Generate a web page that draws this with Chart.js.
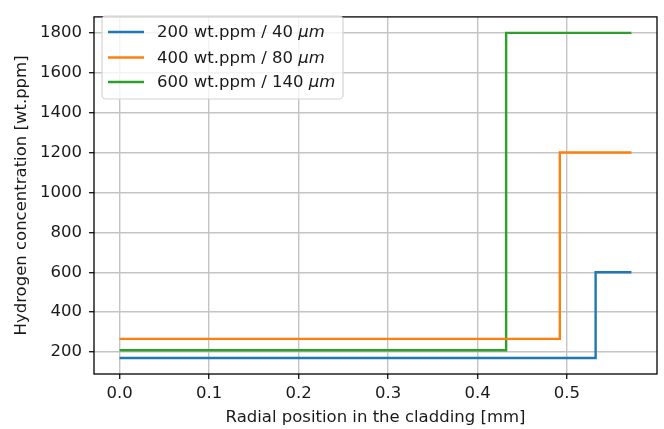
<!DOCTYPE html>
<html>
<head>
<meta charset="utf-8">
<script src="https://cdn.jsdelivr.net/npm/chart.js@4.4.0/dist/chart.umd.min.js"></script>
<style>
  html, body { margin: 0; padding: 0; background: #fff; }
  #wrap { width: 664px; height: 429px; }
</style>
</head>
<body>
<div id="wrap"><canvas id="hChart" width="664" height="429"></canvas></div>
<script>
// step profiles (x in mm, y in wt.ppm)
const blueX = [0, 0.532, 0.532, 0.572];
const blueY = [170, 170, 600, 600];
const orangeX = [0, 0.492, 0.492, 0.572];
const orangeY = [266, 266, 1200, 1200];
const greenX = [0, 0.432, 0.432, 0.572];
const greenY = [209, 209, 1800, 1800];

const seriesNames = ['200 wt.ppm / 40 ', '400 wt.ppm / 80 ', '600 wt.ppm / 140 '];
const seriesColors = ['#1f77b4', '#ff7f0e', '#2ca02c'];

const xTicks = [0.0, 0.1, 0.2, 0.3, 0.4, 0.5];
const yTicks = [200, 400, 600, 800, 1000, 1200, 1400, 1600, 1800];

const FONT = '"DejaVu Sans", sans-serif';
const FS = 16.5;

function pts(xs, ys) {
    return xs.map((x, i) => ({ x: x, y: ys[i] }));
}

// frame + legend drawn like matplotlib
const mplBits = {
    id: 'mplBits',
    afterDraw(chart) {
        const c = chart.ctx;
        const a = chart.chartArea;
        c.save();
        c.strokeStyle = '#000';
        c.lineWidth = 1.3;
        c.strokeRect(a.left, a.top, a.right - a.left, a.bottom - a.top);

        // legend box
        const bx = 102, by = 16, bw = 241, bh = 83, r = 4;
        c.beginPath();
        c.moveTo(bx + r, by);
        c.arcTo(bx + bw, by, bx + bw, by + bh, r);
        c.arcTo(bx + bw, by + bh, bx, by + bh, r);
        c.arcTo(bx, by + bh, bx, by, r);
        c.arcTo(bx, by, bx + bw, by, r);
        c.closePath();
        c.fillStyle = 'rgba(255,255,255,0.8)';
        c.fill();
        c.strokeStyle = '#d4d4d4';
        c.lineWidth = 1.2;
        c.stroke();

        const rows = [32, 57.5, 82];
        c.textBaseline = 'middle';
        seriesNames.forEach((name, i) => {
            c.strokeStyle = seriesColors[i];
            c.lineWidth = 2.4;
            c.beginPath();
            c.moveTo(108, rows[i]);
            c.lineTo(144, rows[i]);
            c.stroke();
            c.fillStyle = '#1a1a1a';
            c.font = FS + 'px ' + FONT;
            c.fillText(name, 157, rows[i] + 1);
            const w = c.measureText(name).width;
            c.font = 'oblique ' + FS + 'px ' + FONT;
            c.fillText('\u03bcm', 157 + w, rows[i] + 1);
        });
        c.restore();
    }
};

const ctx = document.getElementById('hChart').getContext('2d');

const chart = new Chart(ctx, {
    type: 'line',
    data: {
        datasets: [
            { label: seriesNames[0], data: pts(blueX, blueY), borderColor: seriesColors[0] },
            { label: seriesNames[1], data: pts(orangeX, orangeY), borderColor: seriesColors[1] },
            { label: seriesNames[2], data: pts(greenX, greenY), borderColor: seriesColors[2] }
        ]
    },
    options: {
        responsive: false,
        animation: false,
        layout: { padding: { left: 0, right: 7, top: 10, bottom: 0 } },
        elements: {
            line: { borderWidth: 2.4, tension: 0, fill: false, borderJoinStyle: 'miter' },
            point: { radius: 0 }
        },
        plugins: { legend: { display: false }, tooltip: { enabled: false } },
        scales: {
            x: {
                type: 'linear',
                min: -0.0286,
                max: 0.6006,
                afterBuildTicks: s => { s.ticks = xTicks.map(v => ({ value: v })); },
                afterFit: s => { s.height = 55; },
                grid: { color: '#c4c4c4', lineWidth: 1.4, tickColor: '#222', tickLength: 5 },
                border: { display: false },
                ticks: {
                    color: '#1a1a1a', padding: 5, maxRotation: 0,
                    font: { family: FONT, size: FS },
                    callback: v => v.toFixed(1)
                },
                title: {
                    display: true, text: 'Radial position in the cladding [mm]',
                    color: '#1a1a1a', font: { family: FONT, size: FS },
                    padding: { top: 0, bottom: 1 }
                }
            },
            y: {
                min: 90,
                max: 1880,
                afterBuildTicks: s => { s.ticks = yTicks.map(v => ({ value: v })); },
                afterFit: s => { s.width = 94; },
                grid: { color: '#c4c4c4', lineWidth: 1.4, tickColor: '#222', tickLength: 5 },
                border: { display: false },
                ticks: {
                    color: '#1a1a1a', padding: 7,
                    font: { family: FONT, size: FS },
                    callback: v => String(v)
                },
                title: {
                    display: true, text: 'Hydrogen concentration [wt.ppm]',
                    color: '#1a1a1a', font: { family: FONT, size: FS },
                    padding: { top: 12, bottom: 0 }
                }
            }
        }
    },
    plugins: [mplBits]
});
</script>
</body>
</html>
